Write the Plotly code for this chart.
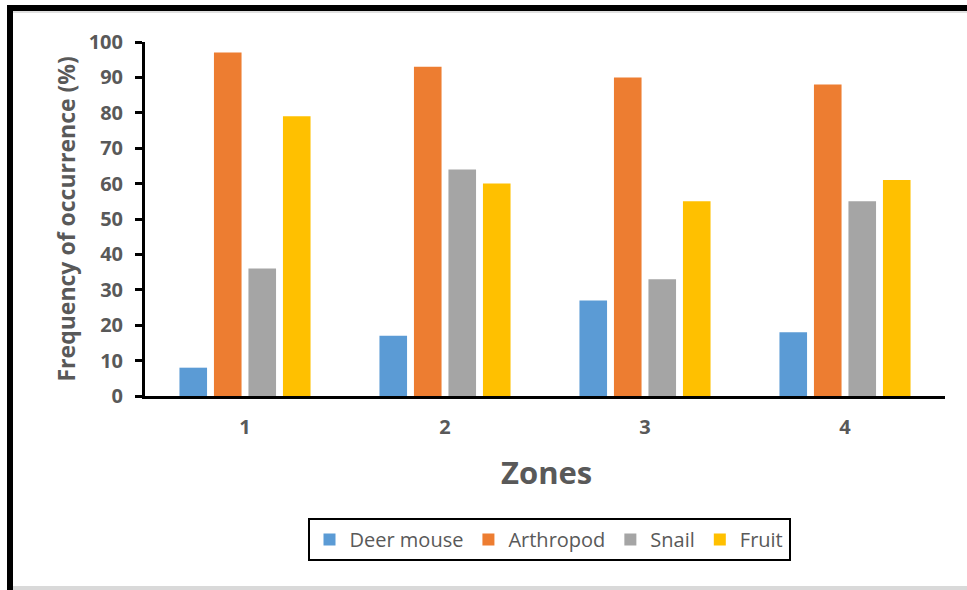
import plotly.graph_objects as go

zones = ["1", "2", "3", "4"]
deer_mouse = [8, 17, 27, 18]
arthropod = [97, 93, 90, 88]
snail = [36, 64, 33, 55]
fruit = [79, 60, 55, 61]
y_ticks = [0, 10, 20, 30, 40, 50, 60, 70, 80, 90, 100]

series = [
    ("Deer mouse", deer_mouse, "#5B9BD5"),
    ("Arthropod", arthropod, "#ED7D31"),
    ("Snail", snail, "#A5A5A5"),
    ("Fruit", fruit, "#FFC000"),
]

W, H = 967, 590
L, R, T, B = 145, 22, 42, 194
PW, PH = W - L - R, H - T - B


def px(xp):
    return (xp - L) / PW


def py(yp):
    return (H - B - yp) / PH


fig = go.Figure()
for name, vals, col in series:
    fig.add_trace(go.Bar(x=zones, y=vals, name=name, marker=dict(color=col, line=dict(width=0))))

grey = "#595959"
font = "Open Sans"

fig.update_layout(
    width=W, height=H,
    margin=dict(l=L, r=R, t=T, b=B),
    paper_bgcolor="white", plot_bgcolor="white",
    barmode="group", bargap=0.31, bargroupgap=0.2,
    font=dict(family=font, color=grey),
    showlegend=True,
    legend=dict(
        orientation="h", xanchor="center", yanchor="top",
        x=px(549), y=py(518),
        bordercolor="black", borderwidth=2,
        font=dict(size=20, color=grey, family=font),
        itemwidth=30, traceorder="normal",
    ),
    xaxis=dict(
        showline=True, linecolor="black", linewidth=3,
        ticks="", showgrid=False, zeroline=False,
        tickfont=dict(size=20, color=grey, family=font, weight="bold"),
        ticklabelstandoff=11,
    ),
    yaxis=dict(
        range=[0, 100], tickvals=y_ticks,
        showline=True, linecolor="black", linewidth=3,
        ticks="outside", ticklen=7, tickwidth=3, tickcolor="black",
        showgrid=False, zeroline=False,
        tickfont=dict(size=20, color=grey, family=font, weight="bold"),
        ticklabelstandoff=8,
    ),
    annotations=[
        dict(text="<b>Frequency of occurrence (%)</b>", textangle=-90,
             xref="paper", yref="paper", x=px(65), y=py(219.5),
             xanchor="center", yanchor="middle", showarrow=False,
             font=dict(size=23, color=grey, family=font)),
        dict(text="<b>Zones</b>",
             xref="paper", yref="paper", x=px(546), y=py(472),
             xanchor="center", yanchor="middle", showarrow=False,
             font=dict(size=31, color=grey, family=font)),
    ],
    shapes=[
        dict(type="rect", xref="paper", yref="paper",
             x0=px(7), x1=px(13), y0=py(H), y1=py(5),
             fillcolor="black", line=dict(width=0), layer="above"),
        dict(type="rect", xref="paper", yref="paper",
             x0=px(7), x1=px(W), y0=py(11), y1=py(5),
             fillcolor="black", line=dict(width=0), layer="above"),
        dict(type="rect", xref="paper", yref="paper",
             x0=px(13), x1=px(W), y0=py(13), y1=py(11),
             fillcolor="#e0e0e0", line=dict(width=0), layer="above"),
        dict(type="rect", xref="paper", yref="paper",
             x0=px(13), x1=px(W), y0=py(H), y1=py(586),
             fillcolor="#d9d9d9", line=dict(width=0), layer="above"),
    ],
)

fig.write_html("out.html", config={"displayModeBar": False},
               post_script="document.body.style.margin='0';")
